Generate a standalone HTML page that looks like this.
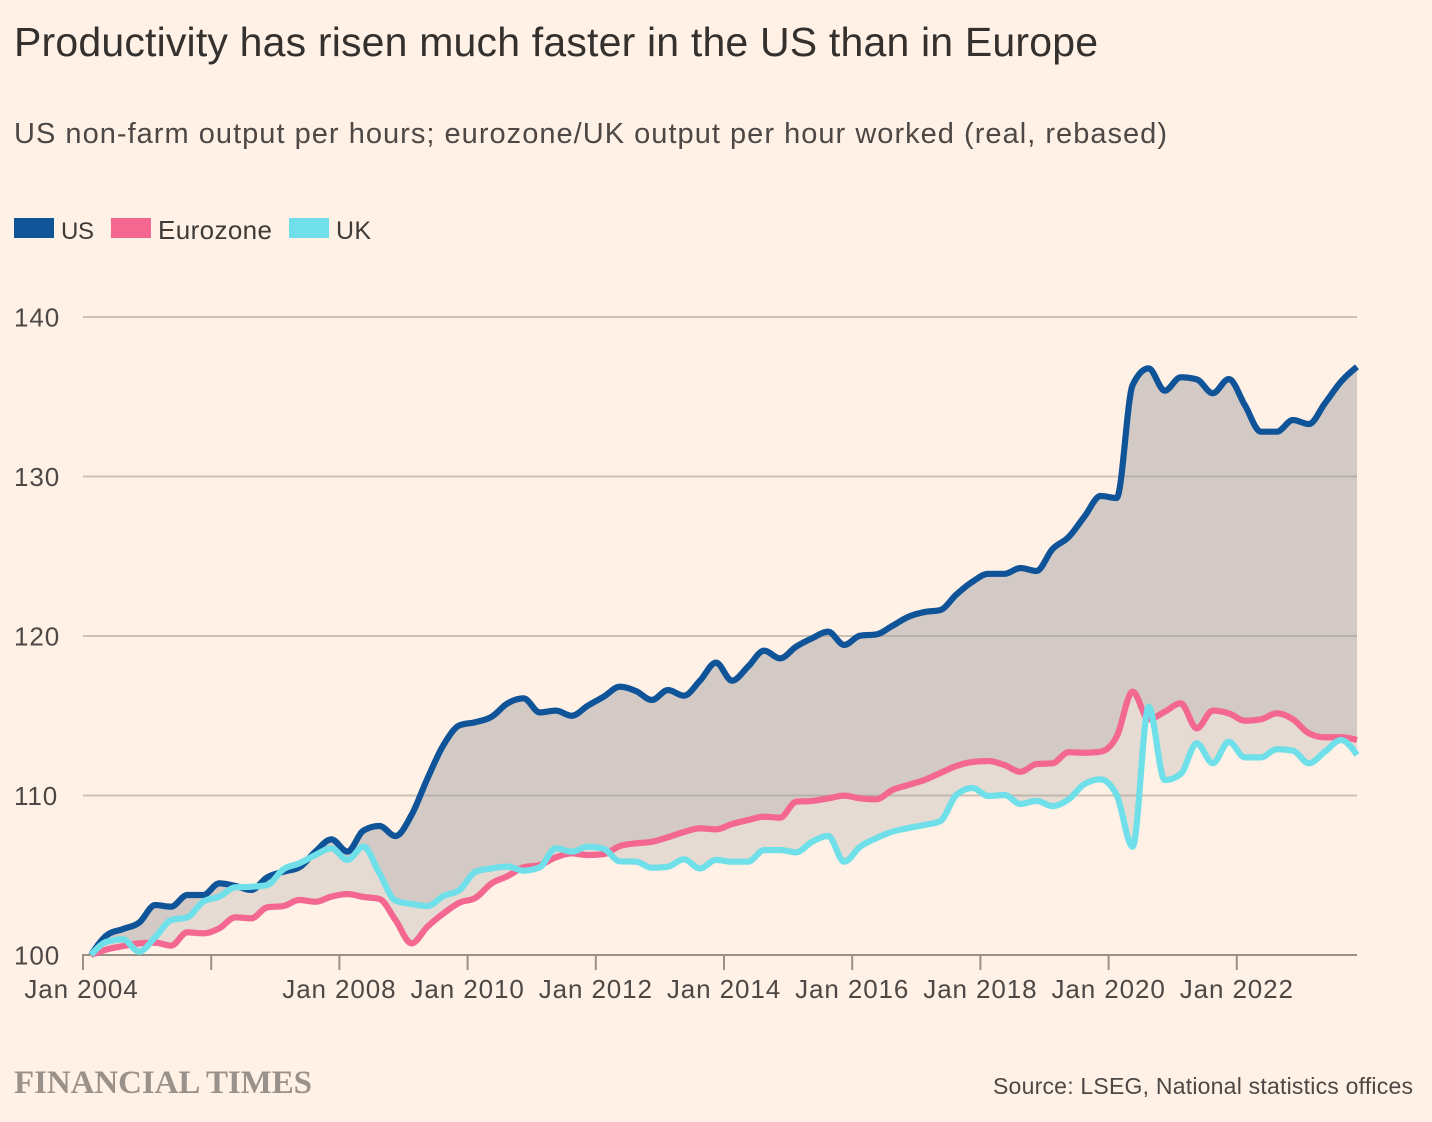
<!DOCTYPE html>
<html lang="en">
<head>
<meta charset="utf-8">
<title>Productivity has risen much faster in the US than in Europe</title>
<style>
html,body{margin:0;padding:0;background:#fff1e5;}
#chart{display:block;width:1432px;height:1122px;background:#fff1e5;font-family:"Liberation Sans",sans-serif;}
.axis-label{font-size:26px;fill:#4d4845;letter-spacing:.9px;}
</style>
</head>
<body>
<svg id="chart" xmlns="http://www.w3.org/2000/svg" width="1432" height="1122" viewBox="0 0 1432 1122">
  <text x="14" y="56" font-size="41" fill="#33302e" textLength="1084" lengthAdjust="spacing">Productivity has risen much faster in the US than in Europe</text>
  <text x="14" y="143" font-size="29" fill="#4d4845" textLength="1153" lengthAdjust="spacing">US non-farm output per hours; eurozone/UK output per hour worked (real, rebased)</text>

  <g>
    <rect x="14" y="218" width="40" height="20" fill="#0f5499"/>
    <text x="61" y="239" font-size="24" fill="#3d3a38" textLength="33" lengthAdjust="spacing">US</text>
    <rect x="111" y="218" width="40" height="20" fill="#f36790"/>
    <text x="158" y="239" font-size="26" fill="#3d3a38" textLength="114" lengthAdjust="spacing">Eurozone</text>
    <rect x="289" y="218" width="40" height="20" fill="#6fdfe9"/>
    <text x="336" y="239" font-size="25" fill="#3d3a38" textLength="35" lengthAdjust="spacing">UK</text>
  </g>

  <g id="grid"></g>
  <g id="areas"></g>
  <g id="axes"></g>
  <g id="lines"></g>

  <text x="14" y="1093" font-family="'Liberation Serif',serif" font-weight="700" font-size="33" fill="#9a918a" textLength="298" lengthAdjust="spacing">FINANCIAL TIMES</text>
  <text x="993" y="1094" font-size="23" fill="#4d4845" textLength="420" lengthAdjust="spacing">Source: LSEG, National statistics offices</text>
</svg>
<script>
const categories = [
  "2004Q1","2004Q2","2004Q3","2004Q4","2005Q1","2005Q2","2005Q3","2005Q4",
  "2006Q1","2006Q2","2006Q3","2006Q4","2007Q1","2007Q2","2007Q3","2007Q4",
  "2008Q1","2008Q2","2008Q3","2008Q4","2009Q1","2009Q2","2009Q3","2009Q4",
  "2010Q1","2010Q2","2010Q3","2010Q4","2011Q1","2011Q2","2011Q3","2011Q4",
  "2012Q1","2012Q2","2012Q3","2012Q4","2013Q1","2013Q2","2013Q3","2013Q4",
  "2014Q1","2014Q2","2014Q3","2014Q4","2015Q1","2015Q2","2015Q3","2015Q4",
  "2016Q1","2016Q2","2016Q3","2016Q4","2017Q1","2017Q2","2017Q3","2017Q4",
  "2018Q1","2018Q2","2018Q3","2018Q4","2019Q1","2019Q2","2019Q3","2019Q4",
  "2020Q1","2020Q2","2020Q3","2020Q4","2021Q1","2021Q2","2021Q3","2021Q4",
  "2022Q1","2022Q2","2022Q3","2022Q4","2023Q1","2023Q2","2023Q3","2023Q4"
];
const usValues = [
  100.0,101.25,101.63,102.03,103.13,103.03,103.76,103.76,104.49,104.33,104.08,104.87,105.22,105.5,106.48,107.25,
  106.48,107.8,108.09,107.46,108.78,111.08,113.17,114.4,114.6,114.94,115.78,116.09,115.21,115.32,115.0,115.63,
  116.2,116.82,116.55,115.99,116.61,116.26,117.2,118.33,117.2,118.08,119.08,118.6,119.33,119.86,120.27,119.44,
  120.02,120.1,120.63,121.2,121.5,121.63,122.6,123.4,123.9,123.9,124.26,124.08,125.45,126.2,127.5,128.78,
  128.65,135.74,136.78,135.38,136.22,136.09,135.22,136.11,134.48,132.81,132.81,133.54,133.29,134.59,135.94,136.88
];
const eurozoneValues = [
  100.0,100.35,100.56,100.73,100.77,100.59,101.42,101.36,101.67,102.36,102.3,102.99,103.07,103.45,103.34,103.66,
  103.82,103.64,103.51,102.19,100.73,101.78,102.61,103.28,103.59,104.49,104.95,105.5,105.64,106.12,106.37,106.27,
  106.33,106.83,107.0,107.1,107.38,107.71,107.94,107.88,108.21,108.46,108.67,108.61,109.61,109.66,109.82,109.99,
  109.82,109.76,110.34,110.66,110.97,111.41,111.85,112.1,112.16,111.91,111.49,111.97,112.02,112.71,112.68,112.75,
  113.69,116.51,114.78,115.25,115.78,114.21,115.32,115.15,114.69,114.78,115.15,114.78,113.9,113.65,113.65,113.48
];
const ukValues = [
  100.0,100.84,100.98,100.21,101.11,102.19,102.36,103.34,103.66,104.24,104.28,104.39,105.37,105.75,106.27,106.69,
  105.96,106.79,105.12,103.41,103.2,103.07,103.7,104.08,105.22,105.43,105.54,105.29,105.5,106.69,106.48,106.79,
  106.65,105.87,105.85,105.47,105.54,106.0,105.43,105.96,105.85,105.85,106.58,106.58,106.44,107.1,107.46,105.85,
  106.79,107.32,107.73,107.96,108.15,108.4,110.03,110.47,109.97,110.03,109.47,109.66,109.34,109.76,110.72,111.01,
  110.03,106.79,115.57,110.97,111.35,113.27,112.02,113.37,112.39,112.39,112.9,112.81,112.02,112.75,113.48,112.54
];
const yTickValues = [100,110,120,130,140];
const xTickYears = [2004,2006,2008,2010,2012,2014,2016,2018,2020,2022];
const xTickLabels = ["Jan 2004","","Jan 2008","Jan 2010","Jan 2012","Jan 2014","Jan 2016","Jan 2018","Jan 2020","Jan 2022"];

const NS = "http://www.w3.org/2000/svg";
const plotLeft = 83, plotRight = 1357, plotBottom = 955, plotTop = 317;
const yMin = yTickValues[0], yMax = yTickValues[yTickValues.length - 1];
const pxPerYear = 64.1;

function xScale(year) { return plotLeft + (year - xTickYears[0]) * pxPerYear; }
function yScale(v) { return plotBottom - (v - yMin) / (yMax - yMin) * (plotBottom - plotTop); }
function quarterToYear(q) { return +q.slice(0, 4) + (+q.slice(5) - 1) * 0.25 + 0.125; }

const xs = categories.map(function (c) { return xScale(quarterToYear(c)); });

/* monotone-X interpolation, sampled to a dense polyline */
function sampleCurve(values) {
  const px = xs, py = values.map(yScale), n = px.length;
  const slopes = [], tang = [];
  for (let i = 0; i < n - 1; i++) slopes.push((py[i + 1] - py[i]) / (px[i + 1] - px[i]));
  for (let i = 1; i < n - 1; i++) {
    const a = slopes[i - 1], b = slopes[i];
    tang[i] = (Math.sign(a) + Math.sign(b)) * Math.min(Math.abs(a), Math.abs(b), 0.5 * Math.abs((a + b) / 2));
  }
  tang[0] = (3 * slopes[0] - tang[1]) / 2;
  tang[n - 1] = (3 * slopes[n - 2] - tang[n - 2]) / 2;
  const pts = [];
  const steps = 16;
  for (let i = 0; i < n - 1; i++) {
    const h = px[i + 1] - px[i];
    for (let k = 0; k < steps; k++) {
      const t = k / steps, t2 = t * t, t3 = t2 * t;
      const y = (2 * t3 - 3 * t2 + 1) * py[i] + (t3 - 2 * t2 + t) * h * tang[i] +
                (-2 * t3 + 3 * t2) * py[i + 1] + (t3 - t2) * h * tang[i + 1];
      pts.push([px[i] + t * h, y]);
    }
  }
  pts.push([px[n - 1], py[n - 1]]);
  return pts;
}
function toPath(pts) {
  return "M" + pts.map(function (p) { return p[0].toFixed(2) + "," + p[1].toFixed(2); }).join("L");
}
function svgEl(tag, attrs) {
  const el = document.createElementNS(NS, tag);
  Object.keys(attrs).forEach(function (k) { el.setAttribute(k, attrs[k]); });
  return el;
}

const gridG = document.getElementById("grid");
const areasG = document.getElementById("areas");
const axesG = document.getElementById("axes");
const linesG = document.getElementById("lines");

/* gridlines and y labels */
yTickValues.forEach(function (v) {
  const y = yScale(v);
  if (v !== yMin) {
    const line = svgEl("line", { x1: plotLeft, x2: plotRight, y1: y, y2: y, stroke: "#cdc1b5", "stroke-width": 2 });
    
    
    gridG.appendChild(line);
  }
  const label = svgEl("text", { x: 14, y: y + 9.5, "class": "axis-label" });
  
  
  label.textContent = String(v);
  axesG.appendChild(label);
});

/* filled gaps */
const usPts = sampleCurve(usValues);
const ezPts = sampleCurve(eurozoneValues);
const ukPts = sampleCurve(ukValues);

const lowerEdge = usPts.map(function (p, i) {
  const upperOther = Math.min(ezPts[i][1], ukPts[i][1]);
  return [p[0], Math.max(p[1], upperOther)];
});
const darkPoly = toPath(usPts) + "L" + lowerEdge.slice().reverse().map(function (p) { return p[0].toFixed(2) + "," + p[1].toFixed(2); }).join("L") + "Z";
const lightPoly = toPath(ezPts) + "L" + ukPts.slice().reverse().map(function (p) { return p[0].toFixed(2) + "," + p[1].toFixed(2); }).join("L") + "Z";

const lightArea = svgEl("path", { d: lightPoly, fill: "rgb(159,158,159)", "fill-opacity": 0.27 });


areasG.appendChild(lightArea);

const darkArea = svgEl("path", { d: darkPoly, fill: "rgb(159,158,159)", "fill-opacity": 0.46 });


areasG.appendChild(darkArea);

/* x axis */
const axisLine = svgEl("line", { x1: plotLeft - 1, x2: plotRight, y1: plotBottom, y2: plotBottom, stroke: "#9b9088", "stroke-width": 2 });


axesG.appendChild(axisLine);

xTickYears.forEach(function (yr, i) {
  const x = xScale(yr);
  const tick = svgEl("line", { x1: x, x2: x, y1: plotBottom, y2: plotBottom + 15, stroke: "#9b9088", "stroke-width": 2 });
  
  
  axesG.appendChild(tick);
  if (xTickLabels[i]) {
    const label = svgEl("text", { x: x - (i === 0 ? 1.5 : 0), y: 998, "text-anchor": "middle", "class": "axis-label" });
    
    
    label.textContent = xTickLabels[i];
    axesG.appendChild(label);
  }
});

/* series lines */
const usLine = svgEl("path", { d: toPath(usPts), fill: "none", stroke: "#0f5499", "stroke-width": 6.2, "stroke-linejoin": "round" });


linesG.appendChild(usLine);

const ezLine = svgEl("path", { d: toPath(ezPts), fill: "none", stroke: "#f36790", "stroke-width": 6.2, "stroke-linejoin": "round" });


linesG.appendChild(ezLine);

const ukLine = svgEl("path", { d: toPath(ukPts), fill: "none", stroke: "#6fdfe9", "stroke-width": 6.2, "stroke-linejoin": "round" });


linesG.appendChild(ukLine);
</script>
</body>
</html>
